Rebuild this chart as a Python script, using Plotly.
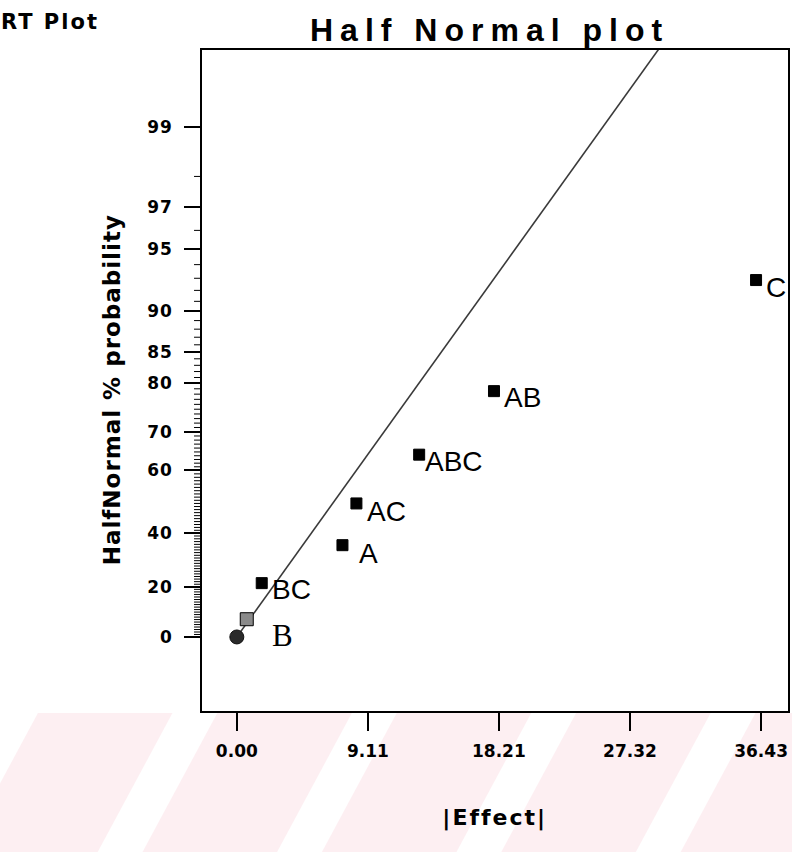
from statistics import NormalDist
import plotly.graph_objects as go

# ---------------- data ----------------
effects = ["B", "BC", "A", "AC", "ABC", "AB", "C"]
abs_effect = [0.69, 1.73, 7.34, 8.31, 12.67, 17.87, 36.08]
halfnormal_pct = [7.14, 21.43, 35.71, 50.00, 64.29, 78.57, 92.86]

origin_effect = [0.0]
origin_pct = [0.0]

line_effect = [0.0, 29.3]
line_pct = [0.0, 99.70]

y_tick_pct = [0, 20, 40, 60, 70, 80, 85, 90, 95, 97, 99]
y_tick_text = ["0", "20", "40", "60", "70", "80", "85", "90", "95", "97", "99"]
y_minor_pct = [p for p in range(1, 99) if p not in y_tick_pct]

x_tick_vals = [0.00, 9.11, 18.21, 27.32, 36.43]
x_tick_text = ["0.00", "9.11", "18.21", "27.32", "36.43"]

# ---------------- half-normal probability scale ----------------
nd = NormalDist()


def hn(p):
    return nd.inv_cdf(0.5 + p / 200.0)


# ---------------- layout geometry ----------------
W, H = 792, 852
L, R, T, B = 202, 2, 50, 141
PW, PH = W - L - R, H - T - B
Y_RANGE = [-0.374, 2.965]


def px(xp):
    return (xp - L) / PW


def py(yp):
    return (H - B - yp) / PH


fig = go.Figure()

# fitted line
fig.add_trace(go.Scatter(
    x=line_effect, y=[hn(p) for p in line_pct], mode="lines",
    line=dict(color="#3a3a3a", width=1.6), hoverinfo="skip", showlegend=False))

# origin point
fig.add_trace(go.Scatter(
    x=origin_effect, y=[hn(p) for p in origin_pct], mode="markers",
    marker=dict(symbol="circle", size=14, color="#2a2a2a",
                line=dict(color="#111", width=1)),
    showlegend=False))

# effects
colors = ["#8a8a8a" if e == "B" else "#000000" for e in effects]
sizes = [13 if e == "B" else 11 for e in effects]
fig.add_trace(go.Scatter(
    x=abs_effect, y=[hn(p) for p in halfnormal_pct], mode="markers",
    marker=dict(symbol="square", size=sizes, color=colors, opacity=1,
                line=dict(color="#000", width=1)),
    text=effects, showlegend=False))

# effect labels (pixel offsets are styling)
label_dx = {"B": 23, "BC": 8, "A": 15, "AC": 9, "ABC": 4, "AB": 8, "C": 8}
label_dy = {"B": -16, "BC": -6, "A": -8, "AC": -8, "ABC": -7, "AB": -6, "C": -7}
for e, xv, pv in zip(effects, abs_effect, halfnormal_pct):
    serif = (e == "B")
    fig.add_annotation(
        x=xv, y=hn(pv), xref="x", yref="y", text=e, showarrow=False,
        xanchor="left", yanchor="middle",
        xshift=label_dx[e], yshift=label_dy[e],
        font=dict(family="Liberation Serif" if serif else "Liberation Sans",
                  size=31 if serif else 28, color="black"))

# titles
fig.add_annotation(text="Half Normal plot", xref="paper", yref="paper",
                   x=px(490), y=py(30), showarrow=False,
                   xanchor="center", yanchor="middle",
                   font=dict(family="Liberation Sans", size=32, color="black", weight="bold"))
fig.add_annotation(text="RT Plot", xref="paper", yref="paper",
                   x=px(5), y=py(22), showarrow=False,
                   xanchor="left", yanchor="middle",
                   font=dict(family="DejaVu Sans", size=21, color="black", weight="bold"))
fig.add_annotation(text="HalfNormal % probability", xref="paper", yref="paper",
                   x=px(112), y=py(390), showarrow=False, textangle=-90,
                   xanchor="center", yanchor="middle",
                   font=dict(family="DejaVu Sans", size=23, color="black", weight="bold"))
fig.add_annotation(text="|Effect|", xref="paper", yref="paper",
                   x=px(495), y=py(818), showarrow=False,
                   xanchor="center", yanchor="middle",
                   font=dict(family="DejaVu Sans", size=22, color="black", weight="bold"))

shapes = []

# minor tick marks of the probability axis (every whole percent)
for p in y_minor_pct:
    shapes.append(dict(type="line", xref="paper", yref="y",
                       x0=px(194), x1=px(L), y0=hn(p), y1=hn(p),
                       line=dict(color="black", width=1)))

# faint watermark stripes at the bottom
for k in range(-4, 3):
    left760 = 552 + 180 * k
    wpink = 135
    slant = 0.54
    y_top, y_bot = 713, 852
    xb = left760 + slant * (760 - y_bot)
    xt = left760 + slant * (760 - y_top)
    path = (f"M {px(xb)} {py(y_bot)} L {px(xb + wpink)} {py(y_bot)} "
            f"L {px(xt + wpink)} {py(y_top)} L {px(xt)} {py(y_top)} Z")
    shapes.append(dict(type="path", path=path, xref="paper", yref="paper",
                       fillcolor="rgba(240,140,160,0.14)", line=dict(width=0),
                       layer="below"))

tick_font = dict(family="DejaVu Sans", size=17, color="black", weight="bold")

fig.update_layout(
    width=W, height=H,
    margin=dict(l=L, r=R, t=T, b=B, pad=0),
    paper_bgcolor="white", plot_bgcolor="white",
    shapes=shapes,
    xaxis=dict(range=[-2.42, 38.3], tickmode="array", tickvals=x_tick_vals,
               ticktext=x_tick_text, ticks="outside", ticklen=18, tickwidth=1.5,
               tickcolor="black", showgrid=False, zeroline=False,
               showline=True, linecolor="black", linewidth=1.5, mirror=True,
               ticklabelstandoff=6, tickfont=tick_font),
    yaxis=dict(range=Y_RANGE, tickmode="array",
               tickvals=[hn(p) for p in y_tick_pct], ticktext=y_tick_text,
               ticks="outside", ticklen=16, tickwidth=1.5, tickcolor="black",
               showgrid=False, zeroline=False,
               showline=True, linecolor="black", linewidth=1.5, mirror=True,
               ticklabelstandoff=8, tickfont=tick_font),
)

post = """
var spacing = {'Half Normal plot': '7px', 'HalfNormal % probability': '1px',
               '|Effect|': '2px', 'RT Plot': '2px'};
document.querySelectorAll('text.annotation-text').forEach(function(t){
  var s = spacing[t.textContent];
  if (s) { t.style.letterSpacing = s; }
});
document.querySelectorAll('.ytick text').forEach(function(t){
  t.style.letterSpacing = '1px';
});
"""

fig.write_html("out.html", config={"displayModeBar": False}, post_script=post)
